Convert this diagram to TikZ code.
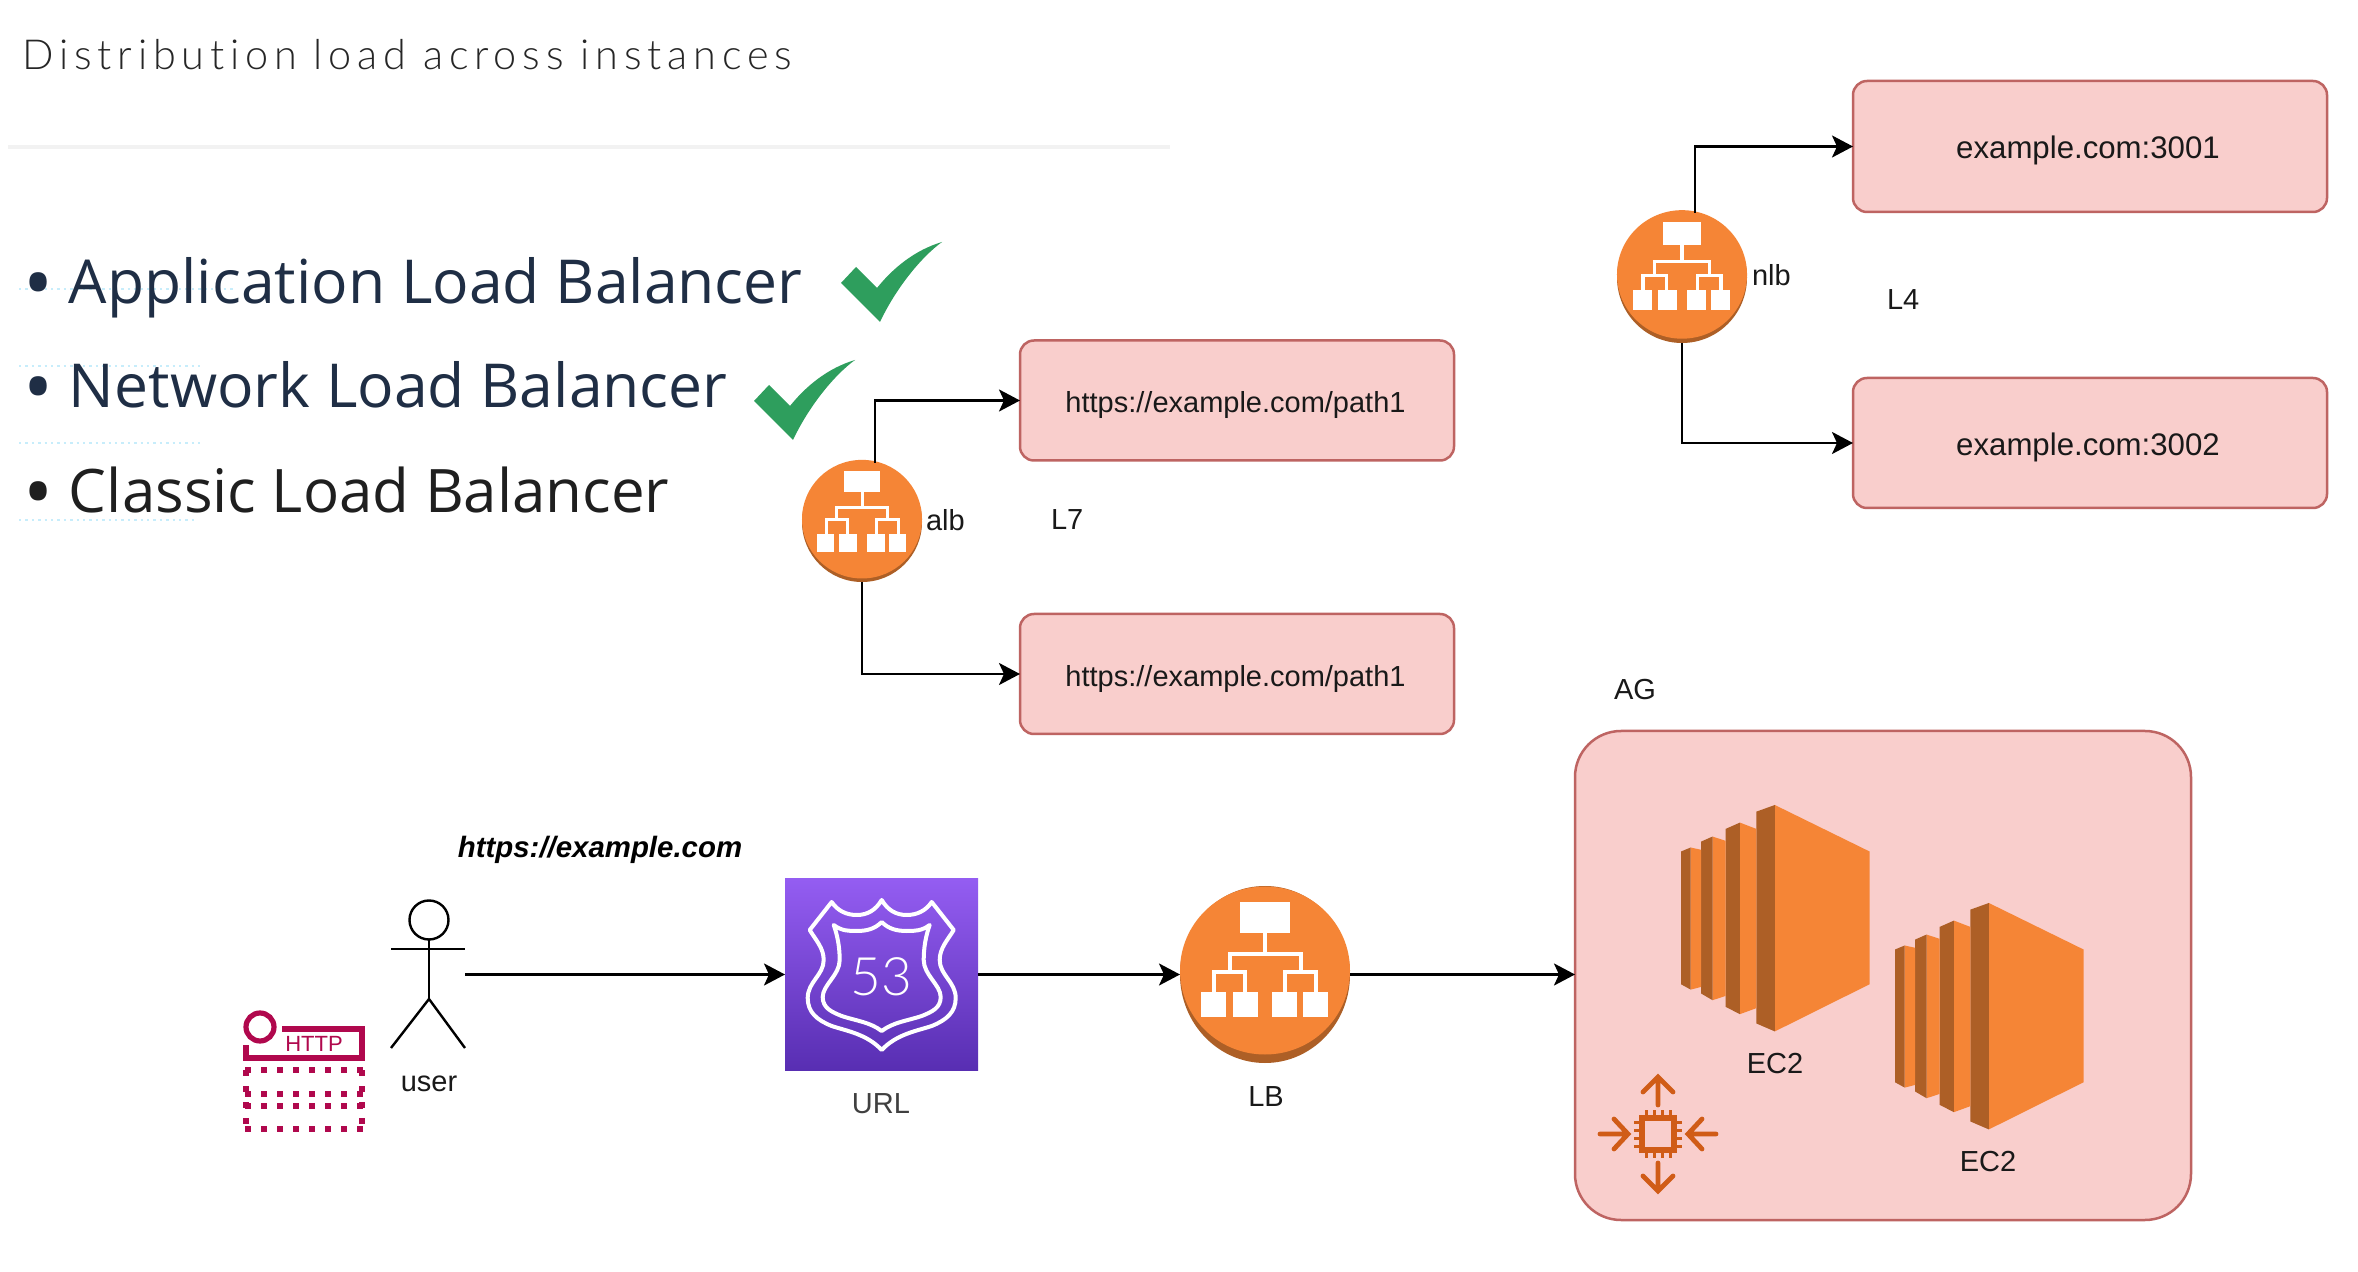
\documentclass[tikz,border=0pt]{standalone}
\usepackage{fontspec}
\setmainfont{Liberation Sans}
\newfontfamily\titlef[LetterSpace=14,Ligatures=NoCommon]{Lato Light}
\newfontfamily\bulletf{Open Sans}
\newfontfamily\digitf{Lato Light}
\usetikzlibrary{arrows.meta,shapes.geometric}
\definecolor{boxfill}{HTML}{F9CECC}
\definecolor{boxline}{HTML}{BE6462}
\definecolor{awsorange}{HTML}{F58536}
\definecolor{awsdark}{HTML}{AD5F26}
\definecolor{chipcol}{HTML}{D05C17}
\definecolor{crim}{HTML}{B0084D}
\definecolor{checkg}{HTML}{2E9E5D}
\definecolor{navytext}{HTML}{1F2E45}
\newcommand\boxtext[2]{\raisebox{0pt}[12.4pt][0pt]{#2\kern#1}}
\newcommand\bigbullet{\makebox[22.5pt][l]{\kern-.4pt\raisebox{-3.9pt}{\fontsize{40pt}{40pt}\selectfont •}}}
\tikzset{
  txt/.style={inner sep=0pt,outer sep=0pt,font=\fontsize{14.5pt}{17pt}\selectfont,text=black!90},
  pinkbox/.style={draw=boxline,fill=boxfill,line width=1.25pt,rounded corners=7pt,
    minimum width=217pt,minimum height=60pt,inner sep=0pt,outer sep=0pt,
    font=\fontsize{14.5pt}{17pt}\selectfont,text=black!90},
  conn/.style={draw=black,line width=1.2pt,-{Stealth[length=10.5pt,width=11pt,inset=2.5pt]}},
  disc/.style={ellipse,fill=awsdark,inner sep=0pt,outer sep=0pt},
  bulletline/.style={inner sep=0pt,outer sep=0pt,anchor=base west,font=\bulletf\fontsize{30.3pt}{35pt}\selectfont},
  dotline/.style={draw=cyan!22!white,line width=.9pt,dash pattern=on 1.2pt off 2pt},
  pics/lbtree/.style={code={
    \fill[awsorange] (0,-4) ellipse [x radius=85,y radius=84];
    \fill[white] (-25,-72) rectangle (25,-42);
    \draw[white] (0,-42) -- (0,-21);
    \draw[white] (-35.5,-3) -- (-35.5,-21) -- (35.5,-21) -- (35.5,-3);
    \draw[white] (-51,18) -- (-51,-3) -- (-20,-3) -- (-20,18);
    \draw[white] (51,18) -- (51,-3) -- (20,-3) -- (20,18);
    \fill[white] (-64,17) rectangle (-39,42);
    \fill[white] (-32,17) rectangle (-7,42);
    \fill[white] (7,17) rectangle (32,42);
    \fill[white] (38,17) rectangle (63,42);
  }},
  pics/ectwo/.style={code={
    \begin{scope}[shift={(-287,-250)}]
    \fill[awsorange] (510,250) -- (735,390) -- (735,790) -- (510,932) -- cycle;
    \fill[awsdark] (466,270) -- (510,250) -- (510,932) -- (466,908) -- cycle;
    \fill[awsorange] (427,303) -- (466,322) -- (466,862) -- (427,880) -- cycle;
    \fill[awsdark] (393,322) -- (427,303) -- (427,880) -- (393,858) -- cycle;
    \fill[awsorange] (362,345) -- (393,358) -- (393,825) -- (362,838) -- cycle;
    \fill[awsdark] (335,360) -- (362,345) -- (362,838) -- (335,818) -- cycle;
    \fill[awsorange] (310,378) -- (335,385) -- (335,798) -- (310,806) -- cycle;
    \fill[awsdark] (287,390) -- (310,378) -- (310,806) -- (287,790) -- cycle;
    \end{scope}
  }}
}
\begin{document}
\begin{tikzpicture}[x=.5pt,y=-.5pt]
\useasboundingbox[fill=white] (0,0) rectangle (2358,1272);

% title
\node (title) [inner sep=0pt,anchor=base west,font=\titlef\fontsize{20.7pt}{24pt}\selectfont,text=black!85] at (22,69.5) {Distribution load across instances};
\draw[black!5,line width=2pt] (8,147) -- (1170,147);

% faint dotted rules
\draw[dotline] (19,289) -- (233,289);
\draw[dotline] (19,366) -- (200,366);
\draw[dotline] (19,443) -- (200,443);
\draw[dotline] (19,520) -- (198,520);

% bullets
\node (b1) [bulletline,text=navytext] at (24,303.5) {\bigbullet Application Load Balancer};
\node (b2) [bulletline,text=navytext] at (24,407.5) {\bigbullet Network Load Balancer};
\node (b3) [bulletline,text=black!88,font=\bulletf\fontsize{30pt}{35pt}\selectfont] at (24,512.5) {\bigbullet Classic Load Balancer};

% checks
\fill[checkg] (841,283) -- (856,267) -- (877,288) .. controls (893,268) and (915,250) .. (942,242) .. controls (920,258) and (895,290) .. (880,322) -- cycle;
\fill[checkg] (754,401) -- (769,385) -- (790,406) .. controls (806,386) and (828,368) .. (855,360) .. controls (833,376) and (808,408) .. (793,440) -- cycle;

% ALB group
\node (albbox1) [pinkbox] at (1237,400.5) {\boxtext{1.5pt}{https://example.com/path1}};
\node (albbox2) [pinkbox] at (1237,674) {\boxtext{1.5pt}{https://example.com/path1}};
\node (alb) [disc,minimum width=60pt,minimum height=60pt] at (862,522) {};
\pic[scale=.706,line width=1.5pt] at (862,522) {lbtree};
\node (alblbl) [txt,anchor=west] at (926,520) {alb};
\node (l7) [txt,anchor=west] at (1051,520) {L7};
\coordinate (albtop) at (875,463);
\draw[conn] (albtop) |- (albbox1.west);
\draw[conn] (alb.south) |- (albbox2.west);

% NLB group
\node (nlbbox1) [pinkbox,minimum width=237pt,minimum height=65.5pt,font=\fontsize{15.6pt}{18pt}\selectfont] at (2090,146.5) {\boxtext{2pt}{example.com:3001}};
\node (nlbbox2) [pinkbox,minimum width=237pt,minimum height=65pt,font=\fontsize{15.6pt}{18pt}\selectfont] at (2090,443) {\boxtext{2pt}{example.com:3002}};
\node (nlb) [disc,minimum width=65pt,minimum height=65.5pt] at (1682,277.5) {};
\pic[scale=.765,line width=1.6pt] at (1682,277.5) {lbtree};
\node (nlblbl) [txt,anchor=west] at (1752,275) {nlb};
\node (l4) [txt,anchor=west] at (1887,300) {L4};
\coordinate (nlbtop) at (1695,213);
\draw[conn] (nlbtop) |- (nlbbox1.west);
\draw[conn] (nlb.south) |- (nlbbox2.west);

% AG
\node (aglbl) [txt] at (1635,690) {AG};
\node (ag) [draw=boxline,fill=boxfill,line width=1.25pt,rounded corners=23pt,minimum width=308pt,minimum height=244.5pt,inner sep=0pt,outer sep=0pt] at (1883,975.5) {};
\begin{scope}[shift={(1681,805)},x=.2104pt,y=-.166pt]
  \pic at (0,0) {ectwo};
\end{scope}
\begin{scope}[shift={(1895,903)},x=.2104pt,y=-.166pt]
  \pic at (0,0) {ectwo};
\end{scope}
\node (ec2a) [txt] at (1775,1064) {EC2};
\node (ec2b) [txt] at (1988,1162) {EC2};

% auto scaling icon
\begin{scope}[shift={(1658,1134)},chipcol,line width=2.4pt,line cap=round,line join=miter]
  \draw[line cap=butt,line width=2.7pt] (-16,-16) rectangle (16,16);
  \foreach \p in {-12,-4,4,12} {
    \draw[line width=1.5pt,line cap=butt] (\p,-16) -- (\p,-24);
    \draw[line width=1.5pt,line cap=butt] (\p,16) -- (\p,24);
    \draw[line width=1.5pt,line cap=butt] (-16,\p) -- (-24,\p);
    \draw[line width=1.5pt,line cap=butt] (16,\p) -- (24,\p);
  }
  \draw (0,-29) -- (0,-57) (-15,-42) -- (0,-57) -- (15,-42);
  \draw (0,29) -- (0,57) (-15,42) -- (0,57) -- (15,42);
  \draw (-58,0) -- (-30,0) (-44,-15) -- (-30,0) -- (-44,15);
  \draw (58,0) -- (30,0) (44,-15) -- (30,0) -- (44,15);
\end{scope}

% bottom flow
\node (url) [inner sep=0pt,font=\fontsize{14.7pt}{17pt}\bfseries\itshape\selectfont,text=black] at (600,850) {https://example.com};

% HTTP icon
\begin{scope}[crim,line width=2.6pt]
  \draw (260,1027) circle [radius=14];
  \draw (282,1029) -- (362,1029) -- (362,1058) -- (246,1058) -- (246,1045);
  \node (http) [inner sep=0pt,text=crim,font=\fontsize{11pt}{13pt}\selectfont] at (314,1044) {HTTP};
  \begin{scope}[line width=2.7pt,dash pattern=on 3pt off 5pt]
  \draw (245,1070) -- (366,1070);
  \draw (245,1094) -- (366,1094);
  \draw (245,1106) -- (366,1106);
  \draw (245,1129) -- (366,1129);
  \draw (246,1070) -- (246,1129);
  \draw (362,1070) -- (362,1129);
  \end{scope}
\end{scope}

% user
\draw[black,line width=1.2pt] (429,920) circle [radius=19.5];
\draw[black,line width=1.2pt] (391,949) -- (465,949);
\draw[black,line width=1.2pt] (429,939.5) -- (429,999);
\draw[black,line width=1.2pt] (391,1048) -- (429,999) -- (465,1048);
\coordinate (userhand) at (465,974.5);
\node (userlbl) [txt] at (429,1084) {user};

% route 53
\node (r53) [minimum width=96.5pt,minimum height=96pt,inner sep=0pt,outer sep=0pt,top color={rgb,255:red,148;green,93;blue,242},bottom color={rgb,255:red,88;green,46;blue,178},draw=none] at (881.5,974.5) {};
\begin{scope}[shift={(881.7,0)},white,line width=2pt,line join=round]
  \draw (-50,902) .. controls (-44,911) and (-35,915) .. (-25,915) .. controls (-14,915) and (-6,910) .. (0,900)
    .. controls (6,910) and (14,915) .. (25,915) .. controls (35,915) and (44,911) .. (50,902)
    -- (72,930) .. controls (66,940) and (58,948) .. (58,960) .. controls (58,975) and (74,982) .. (74,998)
    .. controls (74,1012) and (65,1020) .. (50,1026) .. controls (35,1031) and (15,1034) .. (0,1050)
    .. controls (-15,1034) and (-35,1031) .. (-50,1026) .. controls (-65,1020) and (-74,1012) .. (-74,998)
    .. controls (-74,982) and (-58,975) .. (-58,960) .. controls (-58,948) and (-66,940) .. (-72,930) -- cycle;
  \draw (-48,925) .. controls (-40,931) and (-33,931) .. (-25,931) .. controls (-15,931) and (-7,929) .. (0,922)
    .. controls (7,929) and (15,931) .. (25,931) .. controls (33,931) and (40,931) .. (48,925)
    .. controls (44,936) and (42,948) .. (42,960) .. controls (42,975) and (59,985) .. (59,997)
    .. controls (59,1008) and (50,1012) .. (40,1016) .. controls (25,1021) and (12,1022) .. (0,1031)
    .. controls (-12,1022) and (-25,1021) .. (-40,1016) .. controls (-50,1012) and (-59,1008) .. (-59,997)
    .. controls (-59,985) and (-42,975) .. (-42,960) .. controls (-42,948) and (-44,936) .. (-48,925) -- cycle;
\end{scope}
\node (r53num) [inner sep=0pt,text=white,font=\digitf\fontsize{26.5pt}{30pt}\selectfont] at (881.5,977) {53};
\node (urllbl) [txt,text=black!75] at (881,1103.5) {URL};

% LB
\node (lb) [disc,minimum width=85pt,minimum height=88.5pt] at (1265,974.5) {};
\pic[line width=2pt] at (1265,974.5) {lbtree};
\node (lblbl) [txt] at (1266,1096.5) {LB};

% connectors
\draw[conn] (userhand) -- (r53.west);
\draw[conn] (r53.east) -- (lb.west);
\draw[conn] (lb.east) -- (lb.east -| ag.west);
\end{tikzpicture}
\end{document}
